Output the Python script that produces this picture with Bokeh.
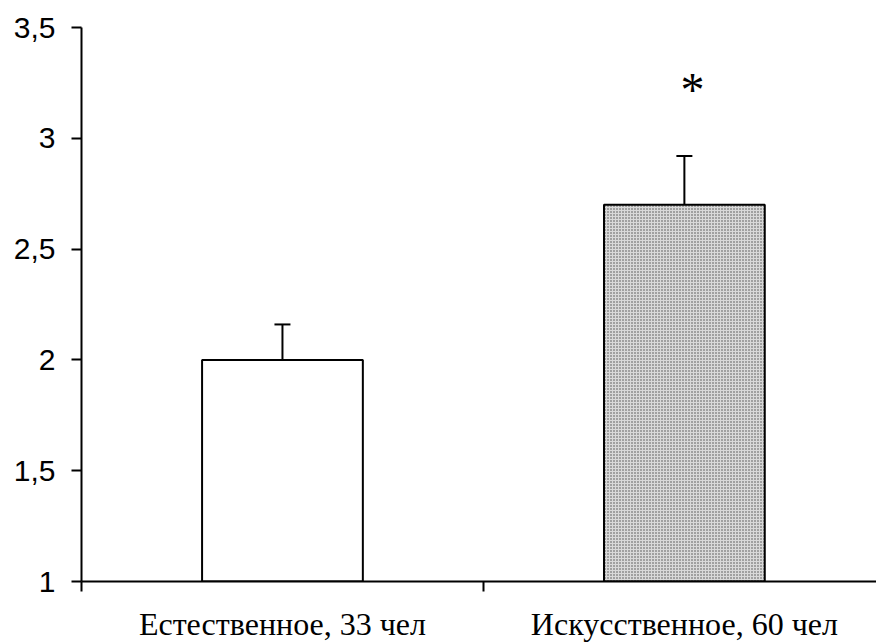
from bokeh.plotting import figure
from bokeh.models import (ColumnDataSource, Range1d, FixedTicker, CustomJSTickFormatter,
                          Whisker, TeeHead)
from bokeh.core.properties import value
from bokeh.embed import file_html
from bokeh.resources import INLINE

# Data
categories = ["Естественное, 33 чел", "Искусственное, 60 чел"]
means = [2.0, 2.7]
errors = [0.16, 0.22]
significance = ["", "*"]

xs = [0.5 + i for i in range(len(categories))]
tops_err = [m + e for m, e in zip(means, errors)]

p = figure(width=876, height=644, output_backend="svg", toolbar_location=None,
           x_range=Range1d(0, 1.978), y_range=Range1d(1, 3.5),
           min_border_left=81, min_border_right=0, min_border_top=27,
           min_border_bottom=63)
p.outline_line_color = None
p.xgrid.visible = False
p.ygrid.visible = False
p.background_fill_color = "white"
p.border_fill_color = "white"

src = ColumnDataSource(dict(x=xs, top=means, upper=tops_err,
                            fill=["white", "#d9d9d9"],
                            hatch=[" ", "dot"]))

p.vbar(x="x", top="top", bottom=1, width=0.4, source=src,
       fill_color="fill", line_color="black", line_width=2,
       hatch_pattern="hatch", hatch_color="#4a4a4a", hatch_scale=3,
       hatch_weight=1)

whisk = Whisker(base="x", lower="top", upper="upper", source=src,
                line_color="black", line_width=2,
                lower_head=None,
                upper_head=TeeHead(size=16, line_color="black", line_width=2))
p.add_layout(whisk)

# significance mark
star_y = [3.22 for _ in significance]
p.text(x=[x + 0.02 for x in xs], y=star_y, text=significance,
       text_font=value("Liberation Serif"), text_font_size="48px",
       text_align="center", text_baseline="middle", text_color="black")

# y axis
ya = p.yaxis[0]
ya.ticker = FixedTicker(ticks=[1, 1.5, 2, 2.5, 3, 3.5])
ya.formatter = CustomJSTickFormatter(code="return tick.toString().replace('.', ',');")
ya.minor_tick_line_color = None
ya.major_tick_in = 0
ya.major_tick_out = 10
ya.major_tick_line_width = 2
ya.axis_line_width = 2
ya.axis_line_color = "black"
ya.major_label_text_font = "Liberation Sans"
ya.major_label_text_font_size = "30px"
ya.major_label_text_color = "black"
ya.major_label_standoff = 16

# x axis: labels under bars, ticks at group boundaries
xa = p.xaxis[0]
xa.ticker = FixedTicker(ticks=xs, minor_ticks=[0, 1])
xa.major_label_overrides = {x: c for x, c in zip(xs, categories)}
xa.major_tick_line_color = None
xa.major_tick_in = 0
xa.major_tick_out = 0
xa.minor_tick_in = 0
xa.minor_tick_out = 10
xa.minor_tick_line_width = 2
xa.minor_tick_line_color = "black"
xa.axis_line_width = 2
xa.axis_line_color = "black"
xa.major_label_text_font = "Liberation Serif"
xa.major_label_text_font_size = "32px"
xa.major_label_text_color = "black"
xa.major_label_standoff = 14

open("out.html", "w").write(file_html(p, INLINE))
